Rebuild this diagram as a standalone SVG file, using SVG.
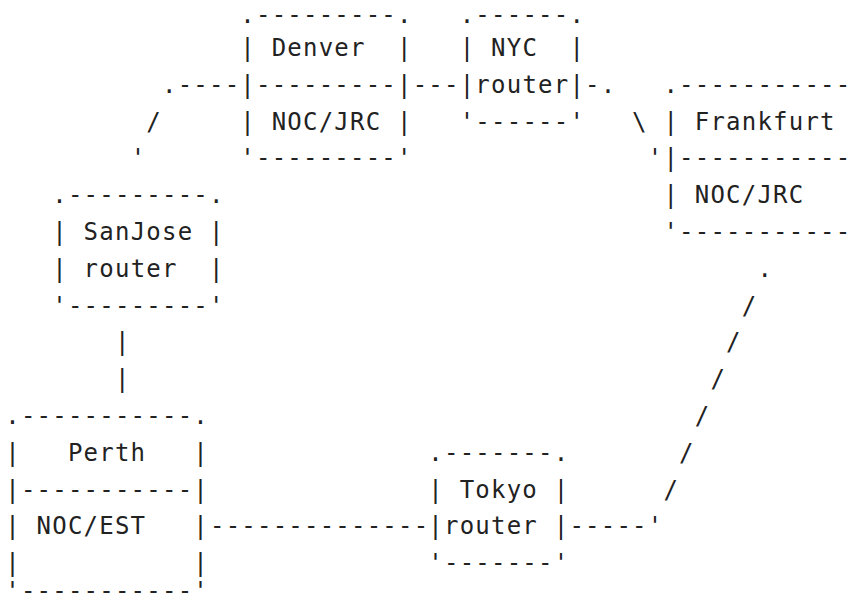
<svg xmlns="http://www.w3.org/2000/svg" width="850" height="605" viewBox="0 0 850 605" xml:space="preserve">
<style>
text{font-family:"DejaVu Sans Mono","Liberation Mono",monospace;font-size:24px;letter-spacing:1.22px;fill:#222;white-space:pre}
</style>
<rect width="850" height="605" fill="#fff"/>
<g id="denver">
<text x="240.33" y="22.6">.---------.</text>
<text x="240.33" y="56">| Denver  |</text>
<text x="240.33" y="92.8">|---------|</text>
<text x="240.33" y="129.6">| NOC/JRC |</text>
<text x="240.33" y="166.4">'---------'</text>
</g>
<g id="nyc">
<text x="459.71" y="22.6">.------.</text>
<text x="459.71" y="56">| NYC  |</text>
<text x="459.71" y="92.8">|router|</text>
<text x="459.71" y="129.6">'------'</text>
</g>
<g id="frankfurt">
<text x="663.42" y="92.8">.-----------</text>
<text x="663.42" y="129.6">| Frankfurt</text>
<text x="663.42" y="166.4">|-----------</text>
<text x="663.42" y="203.2">| NOC/JRC</text>
<text x="663.42" y="240">'-----------</text>
</g>
<g id="sanjose">
<text x="52.29" y="203.2">.---------.</text>
<text x="52.29" y="240">| SanJose |</text>
<text x="52.29" y="276.8">| router  |</text>
<text x="52.29" y="313.6">'---------'</text>
</g>
<g id="perth">
<text x="5.28" y="424">.-----------.</text>
<text x="5.28" y="460.8">|   Perth   |</text>
<text x="5.28" y="497.6">|-----------|</text>
<text x="5.28" y="534.4">| NOC/EST   |</text>
<text x="5.28" y="571.2">|           |</text>
<text x="5.28" y="599">'-----------'</text>
</g>
<g id="tokyo">
<text x="428.37" y="460.8">.-------.</text>
<text x="428.37" y="497.6">| Tokyo |</text>
<text x="428.37" y="534.4">|router |</text>
<text x="428.37" y="571.2">'-------'</text>
</g>
<g id="connectors">
<text x="161.98" y="92.8">.----</text>
<text x="146.31" y="129.6">/</text>
<text x="130.64" y="166.4">'</text>
<text x="412.70" y="92.8">---</text>
<text x="585.07" y="92.8">-.</text>
<text x="632.08" y="129.6">\</text>
<text x="647.75" y="166.4">'</text>
<text x="114.97" y="350.4">|</text>
<text x="114.97" y="387.2">|</text>
<text x="209.99" y="534.4">--------------</text>
<text x="569.40" y="534.4">-----'</text>
<text x="663.42" y="497.6">/</text>
<text x="679.09" y="460.8">/</text>
<text x="694.76" y="424">/</text>
<text x="710.43" y="387.2">/</text>
<text x="726.10" y="350.4">/</text>
<text x="741.77" y="313.6">/</text>
<text x="757.44" y="276.8">.</text>
</g>
</svg>
